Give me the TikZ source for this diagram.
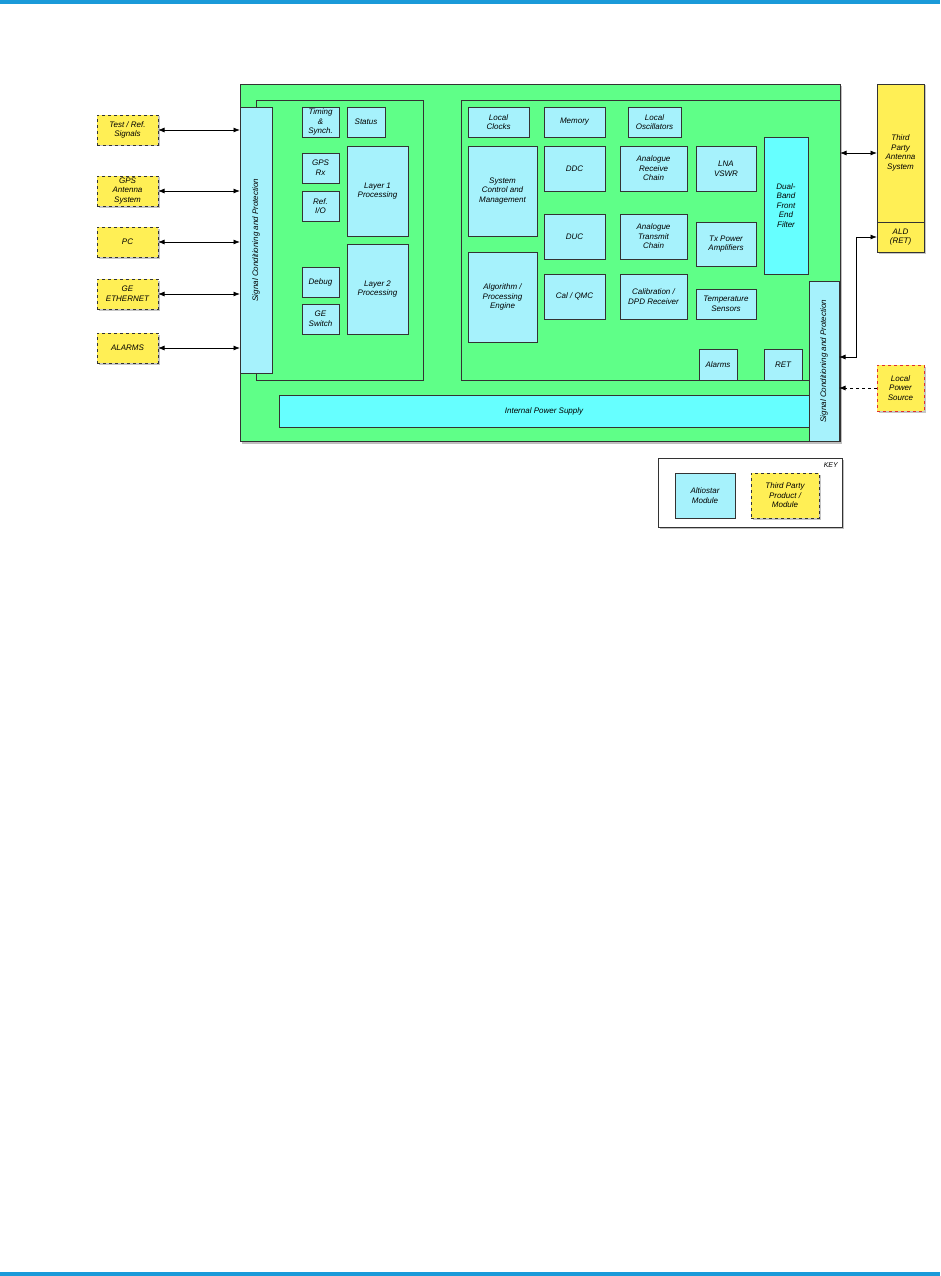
\documentclass[tikz,border=0pt]{standalone}
\usepackage{fontspec}
\setmainfont{Liberation Sans}
\usetikzlibrary{arrows.meta,shadows}
\definecolor{barblue}{HTML}{1A9AD9}
\definecolor{grn}{HTML}{5FFF88}
\definecolor{cyl}{HTML}{A6F2FC}
\definecolor{cys}{HTML}{66FFFF}
\definecolor{yel}{HTML}{FFEF55}
\definecolor{edgec}{HTML}{333333}
\definecolor{redc}{HTML}{E03030}
\tikzset{
  base/.style={draw=edgec, line width=0.8pt, inner sep=1pt, outer sep=0pt, align=center,
    font=\itshape\fontsize{8}{9.6}\selectfont},
  shd/.style={drop shadow={opacity=0.45, shadow xshift=1.5pt, shadow yshift=-1.5pt}},
  mod/.style={base, fill=cyl},
  modb/.style={base, fill=cys},
  grnbox/.style={base, fill=grn},
  third/.style={base, fill=yel, dashed, shd},
  thirds/.style={base, fill=yel, shd},
  dbl/.style={{Latex[length=6.5pt,width=5pt]}-{Latex[length=6.5pt,width=5pt]}, line width=0.8pt, black},
}
\newcommand{\bx}[7][mod]{\node[#1, minimum width={#5-#3}, minimum height={#6-#4}] (#2) at ({(#3+#5)/2},{(#4+#6)/2}) {#7};}
\begin{document}
\begin{tikzpicture}[x=1pt,y=-1pt]
\useasboundingbox (0,0) rectangle (940,1276);
\fill[barblue] (0,0) rectangle (940,4);
\fill[barblue] (0,1272) rectangle (940,1276);

% main board
\bx[grnbox, drop shadow={opacity=0.5, shadow xshift=2pt, shadow yshift=-2.5pt}]{main}{240}{84}{840}{441}{}
\bx[grnbox]{linner}{256}{100}{423}{380}{}
\bx[grnbox]{rinner}{461}{100}{840}{380}{}

% left signal conditioning
\node[mod, rotate=90, minimum width=266, minimum height=32] (lsig) at (256,240) {Signal Conditioning and Protection};

% left inner modules
\bx{timing}{302}{107}{339}{137}{Timing\\\&\\Synch.}
\bx{status}{347}{107}{385}{137}{Status}
\bx{gps}{302}{153}{339}{183}{GPS\\Rx}
\bx{refio}{302}{191}{339}{221}{Ref.\\I/O}
\bx{l1}{347}{146}{408}{236}{Layer 1\\Processing}
\bx{debug}{302}{267}{339}{297}{Debug}
\bx{geswitch}{302}{304}{339}{334}{GE\\Switch}
\bx{l2}{347}{244}{408}{334}{Layer 2\\Processing}

% right inner modules
\bx{lclk}{468}{107}{529}{137}{Local\\Clocks}
\bx{memory}{544}{107}{605}{137}{Memory}
\bx{losc}{628}{107}{681}{137}{Local\\Oscillators}
\bx{scm}{468}{146}{537}{236}{System\\Control and\\Management}
\bx{ddc}{544}{146}{605}{191}{DDC}
\bx{duc}{544}{214}{605}{259}{DUC}
\bx{arc}{620}{146}{687}{191}{Analogue\\Receive\\Chain}
\bx{atc}{620}{214}{687}{259}{Analogue\\Transmit\\Chain}
\bx{ape}{468}{252}{537}{342}{Algorithm /\\Processing\\Engine}
\bx{calqmc}{544}{274}{605}{319}{Cal / QMC}
\bx{cdpd}{620}{274}{687}{319}{Calibration /\\DPD Receiver}
\bx{lna}{696}{146}{756}{191}{LNA\\VSWR}
\bx{txpa}{696}{222}{756}{266}{Tx Power\\Amplifiers}
\bx{temp}{696}{289}{756}{319}{Temperature\\Sensors}
\bx[modb]{dbf}{764}{137}{808}{274}{Dual-\\Band\\Front\\End\\Filter}
\bx{alarmsm}{699}{349}{737}{380}{Alarms}
\bx{ret}{764}{349}{802}{380}{RET}

% power supply
\bx[modb]{ips}{279}{395}{809}{427}{Internal Power Supply}

% right signal conditioning
\node[mod, rotate=90, minimum width=160, minimum height=30] (rsig) at (824,361) {Signal Conditioning and Protection};

% left external
\bx[third]{test}{97}{115}{158}{145}{Test / Ref.\\Signals}
\bx[third]{gpsant}{97}{176}{158}{206}{GPS\\Antenna\\System}
\bx[third]{pc}{97}{227}{158}{257}{PC}
\bx[third]{geeth}{97}{279}{158}{309}{GE\\ETHERNET}
\bx[third]{alarmsx}{97}{333}{158}{363}{ALARMS}

\foreach \n in {test,gpsant,pc,geeth,alarmsx}
  \draw[dbl] (\n.east) -- (\n.east -| lsig.north);

% right external
\bx[thirds]{tpa}{877}{84}{924}{222}{Third\\Party\\Antenna\\System}
\bx[thirds]{ald}{877}{222}{924}{252}{ALD\\(RET)}
\bx[third, draw=redc]{lps}{877}{365}{924}{411}{Local\\Power\\Source}

\draw[dbl] (tpa.west) -- (tpa.west -| main.east);
\coordinate (aldturn) at (856,357);
\draw[dbl] (ald.west) -| (aldturn) -- (aldturn -| rsig.south);
\draw[-{Latex[length=6.5pt,width=5pt]}, line width=0.8pt, dashed] (lps.west) -- (lps.west -| rsig.south);

% key
\bx[base, fill=white, drop shadow={opacity=0.5, shadow xshift=1.5pt, shadow yshift=-2pt}]{key}{658}{458}{842}{527}{}
\node[font=\itshape\fontsize{7}{8}\selectfont, anchor=north east, inner sep=1pt] (keylbl) at (839,461) {KEY};
\bx{keymod}{675}{473}{735}{518}{Altiostar\\Module}
\bx[third]{keythird}{751}{473}{819}{518}{Third Party\\Product /\\Module}
\end{tikzpicture}
\end{document}
